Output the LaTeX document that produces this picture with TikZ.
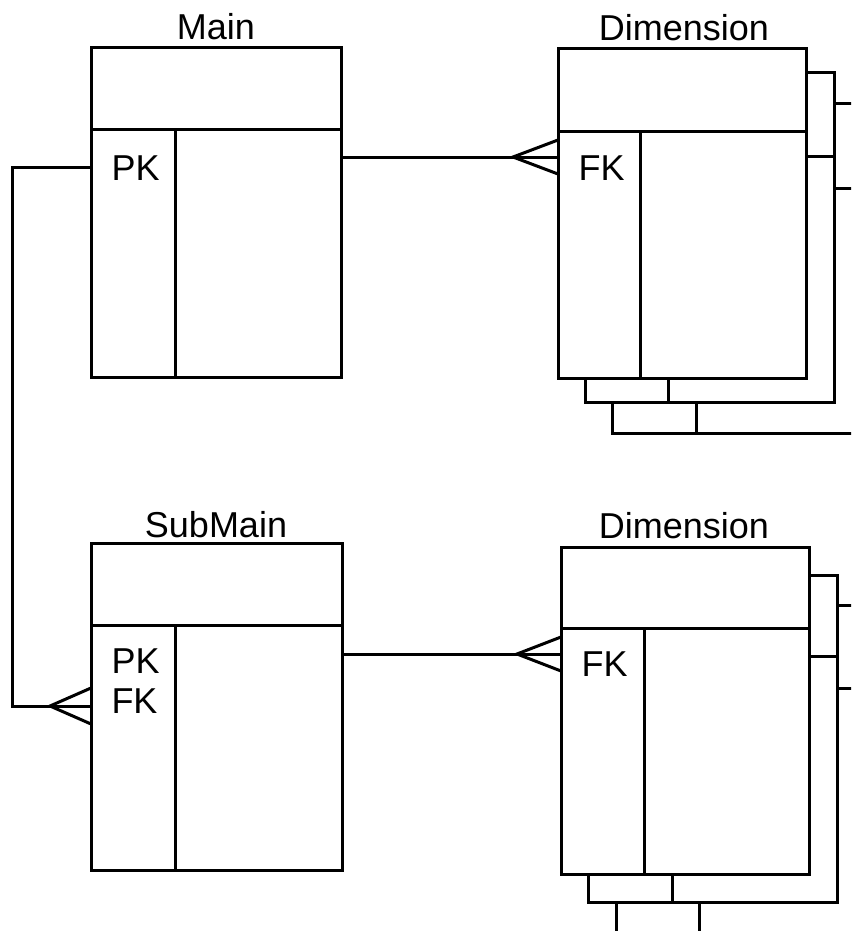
\documentclass[tikz,border=0pt]{standalone}
\usepackage{fontspec}
\setmainfont{Liberation Sans}
\usetikzlibrary{calc}
\tikzset{
  ent/.style={draw, fill=white, rectangle, inner sep=0pt, outer sep=0pt},
  ln/.style={line width=3pt, line cap=rect, line join=miter},
  lbl/.style={anchor=base, inner sep=0pt, font=\fontsize{36}{40}\selectfont},
  key/.style={anchor=base west, inner sep=0pt, font=\fontsize{36}{40}\selectfont},
}
\begin{document}
\begin{tikzpicture}[x=1pt,y=-1pt,ln]
\useasboundingbox (0,0) rectangle (851,931);
\clip (0,0) rectangle (851,931);
% ---------- Dimension stack 1 ----------
\node[ent, minimum width=250pt, minimum height=329pt] (d1c) at (737,268.5) {};
\draw ($(d1c.north west)+(0,84)$) -- ($(d1c.north east)+(0,84)$);
\draw ($(d1c.north west)+(84,84)$) -- ($(d1c.south west)+(84,0)$);
\node[ent, minimum width=249pt, minimum height=329pt] (d1b) at (709.5,237.5) {};
\draw ($(d1b.north west)+(0,83)$) -- ($(d1b.north east)+(0,83)$);
\draw ($(d1b.north west)+(83,83)$) -- ($(d1b.south west)+(83,0)$);
\node[ent, minimum width=248pt, minimum height=329pt] (d1) at (682,213.5) {};
\draw ($(d1.north west)+(0,83)$) -- ($(d1.north east)+(0,83)$);
\draw ($(d1.north west)+(82,83)$) -- ($(d1.south west)+(82,0)$);
\node[lbl] (d1t) at (684,41) {Dimension};
\node[key] (d1k) at (577,180) {FK};
% ---------- Dimension stack 2 ----------
\node[ent, minimum width=250pt, minimum height=329pt] (d2c) at (741,769.5) {};
\draw ($(d2c.north west)+(0,83)$) -- ($(d2c.north east)+(0,83)$);
\draw ($(d2c.north west)+(83,83)$) -- ($(d2c.south west)+(83,0)$);
\node[ent, minimum width=249pt, minimum height=327pt] (d2b) at (712.5,738.5) {};
\draw ($(d2b.north west)+(0,81)$) -- ($(d2b.north east)+(0,81)$);
\draw ($(d2b.north west)+(84,81)$) -- ($(d2b.south west)+(84,0)$);
\node[ent, minimum width=248pt, minimum height=327pt] (d2) at (685,710.5) {};
\draw ($(d2.north west)+(0,81)$) -- ($(d2.north east)+(0,81)$);
\draw ($(d2.north west)+(83,81)$) -- ($(d2.south west)+(83,0)$);
\node[lbl] (d2t) at (684,538) {Dimension};
\node[key] (d2k) at (580,676) {FK};
% ---------- Main ----------
\node[ent, minimum width=250pt, minimum height=329pt] (main) at (216,212.5) {};
\draw ($(main.north west)+(0,82)$) -- ($(main.north east)+(0,82)$);
\draw ($(main.north west)+(84,82)$) -- ($(main.south west)+(84,0)$);
\node[lbl] (mt) at (216,40) {Main};
\node[key] (mk) at (110,180) {PK};
% ---------- SubMain ----------
\node[ent, minimum width=251pt, minimum height=327pt] (sub) at (216.5,706.5) {};
\draw ($(sub.north west)+(0,82)$) -- ($(sub.north east)+(0,82)$);
\draw ($(sub.north west)+(84,82)$) -- ($(sub.south west)+(84,0)$);
\node[lbl] (st) at (216,537) {SubMain};
\node[key] (sk1) at (110,673) {PK};
\node[key] (sk2) at (110,713) {FK};
% ---------- connectors ----------
\coordinate (d1in) at (d1.west |- 0,157);
\draw (main.east |- d1in) -- ($(d1in)+(-45,0)$) -- (d1in);
\draw ($(d1in)+(0,-17)$) -- ($(d1in)+(-45,0)$) -- ($(d1in)+(0,17)$);
\coordinate (d2in) at (d2.west |- 0,654);
\draw (sub.east |- d2in) -- ($(d2in)+(-44,0)$) -- (d2in);
\draw ($(d2in)+(0,-17)$) -- ($(d2in)+(-44,0)$) -- ($(d2in)+(0,17)$);
\coordinate (mout) at (main.west |- 0,167);
\coordinate (sin) at (sub.west |- 0,706);
\draw (mout) -- (12,167) -- (12,706) -- ($(sin)+(-41,0)$) -- (sin);
\draw ($(sin)+(0,-18)$) -- ($(sin)+(-41,0)$) -- ($(sin)+(0,18)$);
\end{tikzpicture}
\end{document}
